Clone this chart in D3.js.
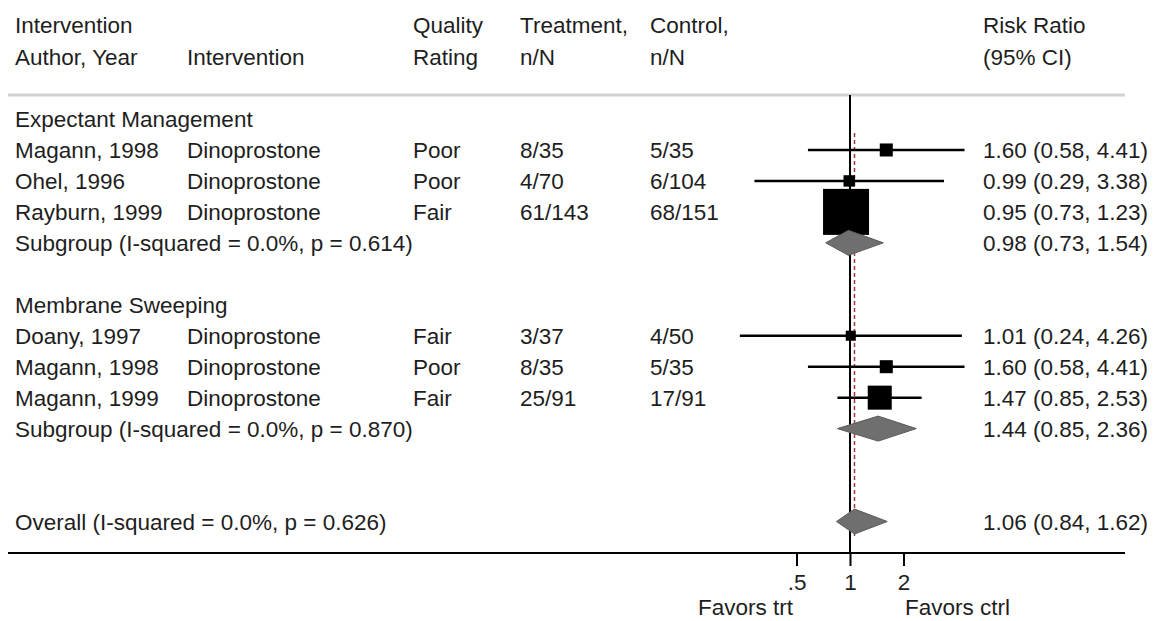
<!DOCTYPE html>
<html>
<head>
<meta charset="utf-8">
<script src="https://cdn.jsdelivr.net/npm/d3@7"></script>
<style>
  html, body { margin: 0; padding: 0; background: #fff; }
  svg { display: block; }
  text { font-family: "Liberation Sans", Arial, Helvetica, sans-serif; font-size: 22.5px; fill: #1e1e1e; }
</style>
</head>
<body>
<svg id="chart" width="1153" height="621"></svg>
<script>
// ---------------- DATA ----------------
const headerLine1 = ["Intervention", "", "Quality", "Treatment,", "Control,", "Risk Ratio"];
const headerLine2 = ["Author, Year", "Intervention", "Rating", "n/N", "n/N", "(95% CI)"];

const groupNames = ["Expectant Management", "Membrane Sweeping"];
const studyGroup = [0, 0, 0, 1, 1, 1];
const studyNames = ["Magann, 1998", "Ohel, 1996", "Rayburn, 1999", "Doany, 1997", "Magann, 1998", "Magann, 1999"];
const interventions = ["Dinoprostone", "Dinoprostone", "Dinoprostone", "Dinoprostone", "Dinoprostone", "Dinoprostone"];
const qualityRatings = ["Poor", "Poor", "Fair", "Fair", "Poor", "Fair"];
const treatmentNN = ["8/35", "4/70", "61/143", "3/37", "8/35", "25/91"];
const controlNN = ["5/35", "6/104", "68/151", "4/50", "5/35", "17/91"];
const riskRatio = [1.60, 0.99, 0.95, 1.01, 1.60, 1.47];
const ciLower = [0.58, 0.29, 0.73, 0.24, 0.58, 0.85];
const ciUpper = [4.41, 3.38, 1.23, 4.26, 4.41, 2.53];
const weights = [5.2, 4.0, 64.9, 3.1, 5.2, 17.7];

const subgroupLabels = ["Subgroup (I-squared = 0.0%, p = 0.614)", "Subgroup (I-squared = 0.0%, p = 0.870)"];
const subgroupRR = [0.98, 1.44];
const subgroupLower = [0.73, 0.85];
const subgroupUpper = [1.54, 2.36];

const overallLabel = "Overall (I-squared = 0.0%, p = 0.626)";
const overallRR = [1.06];
const overallLower = [0.84];
const overallUpper = [1.62];

const tickValues = [0.5, 1, 2];
const tickLabels = [".5", "1", "2"];
const favorsLabels = ["Favors trt", "Favors ctrl"];

// ---------------- LAYOUT ----------------
const svg = d3.select("#chart");
const fmt = d3.format(".2f");
const ciText = (r, l, u) => `${fmt(r)} (${fmt(l)}, ${fmt(u)})`;

const colX = [15, 187, 413, 520, 650, 983];
const x = d3.scaleLog().domain([0.5, 2]).range([796.5, 903.5]);
const y = d3.scaleLinear().domain([0, 13]).range([119, 521.5]);
const boxSize = d3.scaleSqrt().domain([0, d3.max(weights)]).range([0, 46]);

const topLineY = 95, axisY = 553;
const leftEdge = 8, rightEdge = 1125;

// header
const hdr = svg.append("g");
headerLine1.forEach((t, i) => { if (t) hdr.append("text").attr("x", colX[i]).attr("y", 33).text(t); });
headerLine2.forEach((t, i) => { if (t) hdr.append("text").attr("x", colX[i]).attr("y", 65).text(t); });

svg.append("line").attr("x1", leftEdge).attr("x2", rightEdge)
  .attr("y1", topLineY).attr("y2", topLineY)
  .attr("stroke", "#d2d2d2").attr("stroke-width", 3);

// rows
const rows = [];
let r = 0;
groupNames.forEach((g, gi) => {
  rows.push({ type: "group", row: r++, label: g });
  studyNames.forEach((s, i) => {
    if (studyGroup[i] === gi) rows.push({ type: "study", row: r++, i });
  });
  rows.push({ type: "sub", row: r++, gi });
  r++; // blank
});
const overallRow = 13;

// null line (x = 1)
svg.append("line").attr("x1", x(1)).attr("x2", x(1))
  .attr("y1", topLineY).attr("y2", axisY)
  .attr("stroke", "#000").attr("stroke-width", 2);

// overall effect dashed line
svg.append("line").attr("x1", x(overallRR[0])).attr("x2", x(overallRR[0]))
  .attr("y1", 133).attr("y2", 537)
  .attr("stroke", "#a8343c").attr("stroke-width", 1.5)
  .attr("stroke-dasharray", "4,3");

const textG = svg.append("g");
const markG = svg.append("g");

const diamond = (rr, lo, hi, cy) => {
  const h = 12.5;
  return `M${x(lo)},${cy} L${x(rr)},${cy - h} L${x(hi)},${cy} L${x(rr)},${cy + h} Z`;
};

rows.forEach(d => {
  const cy = y(d.row);
  const base = cy + 8;
  if (d.type === "group") {
    textG.append("text").attr("x", colX[0]).attr("y", base).text(d.label);
  } else if (d.type === "study") {
    const i = d.i;
    [studyNames[i], interventions[i], qualityRatings[i], treatmentNN[i], controlNN[i],
     ciText(riskRatio[i], ciLower[i], ciUpper[i])].forEach((t, c) => {
      textG.append("text").attr("x", colX[c]).attr("y", base).text(t);
    });
    markG.append("line").attr("x1", x(ciLower[i])).attr("x2", x(ciUpper[i]))
      .attr("y1", cy).attr("y2", cy).attr("stroke", "#000").attr("stroke-width", 2.5);
    const s = boxSize(weights[i]);
    markG.append("rect").attr("x", x(riskRatio[i]) - s / 2).attr("y", cy - s / 2)
      .attr("width", s).attr("height", s).attr("fill", "#000");
  } else if (d.type === "sub") {
    const gi = d.gi;
    textG.append("text").attr("x", colX[0]).attr("y", base).text(subgroupLabels[gi]);
    textG.append("text").attr("x", colX[5]).attr("y", base)
      .text(ciText(subgroupRR[gi], subgroupLower[gi], subgroupUpper[gi]));
    markG.append("path").attr("d", diamond(subgroupRR[gi], subgroupLower[gi], subgroupUpper[gi], cy))
      .attr("fill", "#6f6f6f").attr("stroke", "#5a5a5a").attr("stroke-width", 1);
  }
});

// overall
{
  const cy = y(overallRow);
  textG.append("text").attr("x", colX[0]).attr("y", cy + 8).text(overallLabel);
  textG.append("text").attr("x", colX[5]).attr("y", cy + 8)
    .text(ciText(overallRR[0], overallLower[0], overallUpper[0]));
  markG.append("path").attr("d", diamond(overallRR[0], overallLower[0], overallUpper[0], cy))
    .attr("fill", "#6f6f6f").attr("stroke", "#5a5a5a").attr("stroke-width", 1);
}

// axis
svg.append("line").attr("x1", leftEdge).attr("x2", rightEdge)
  .attr("y1", axisY).attr("y2", axisY)
  .attr("stroke", "#000").attr("stroke-width", 2);

const axis = d3.axisBottom(x).tickValues(tickValues)
  .tickFormat((d, i) => tickLabels[i]).tickSize(13).tickPadding(8);
const axG = svg.append("g").attr("transform", `translate(0,${axisY})`).call(axis);
axG.select(".domain").remove();
axG.selectAll(".tick line").attr("stroke", "#000").attr("stroke-width", 2);
axG.selectAll(".tick text").attr("font-size", 22.5).attr("font-family", '"Liberation Sans", Arial, sans-serif')
  .attr("fill", "#1e1e1e");

svg.append("text").attr("x", x(1) - 57).attr("y", 615).attr("text-anchor", "end").text(favorsLabels[0]);
svg.append("text").attr("x", x(1) + 55).attr("y", 615).attr("text-anchor", "start").text(favorsLabels[1]);
</script>
</body>
</html>
